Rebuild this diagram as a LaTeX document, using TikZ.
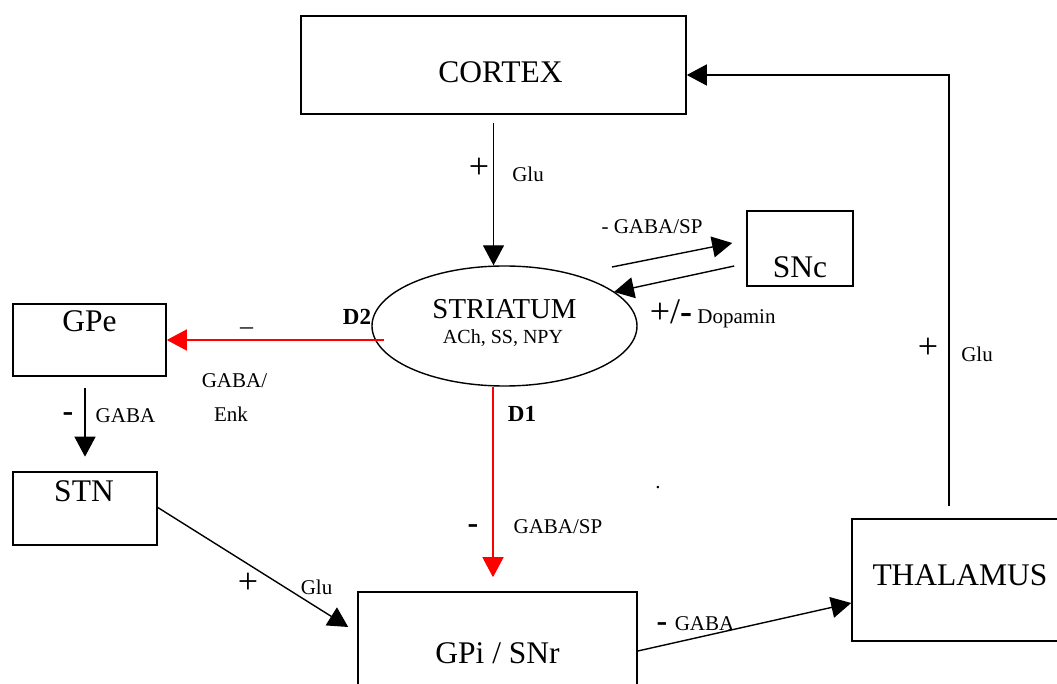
\documentclass[tikz,border=0pt]{standalone}
\usepackage{fontspec}
\setmainfont{Liberation Serif}
\usetikzlibrary{arrows.meta,shapes.geometric}
\begin{document}
\begin{tikzpicture}[x=0.5pt,y=-0.5pt,
  box/.style={draw,line width=0.8pt,rectangle,inner sep=0pt},
  big/.style={font=\fontsize{15.75}{18}\selectfont,inner sep=0pt,anchor=base},
  mid/.style={font=\fontsize{14.4}{17}\selectfont,inner sep=0pt,anchor=base},
  tiny/.style={font=\fontsize{10}{12}\selectfont,inner sep=0pt,anchor=base},
  small/.style={font=\fontsize{10.5}{12}\selectfont,inner sep=0pt,anchor=base},
  boldlab/.style={font=\fontsize{11.5}{13}\selectfont\bfseries,inner sep=0pt,anchor=base},
  sign/.style={font=\fontsize{18}{20}\selectfont,inner sep=0pt,anchor=base},
  minus/.style={font=\fontsize{16}{18}\selectfont\bfseries,inner sep=0pt,anchor=base},
  endash/.style={font=\fontsize{13}{15}\selectfont,inner sep=0pt,anchor=base},
  con/.style={line width=0.7pt,-{Triangle[length=10pt,width=10.5pt]}},
  redcon/.style={con,red},
]
\useasboundingbox (0,0) rectangle (1057,684);
\fill[white] (0,0) rectangle (1057,684);
\clip (0,0) rectangle (1057,684);

% boxes
\node[box,minimum width=192.5pt,minimum height=49pt] (cortex) at (493.5,65) {};
\node[box,minimum width=53pt,minimum height=37.5pt] (snc) at (800,248.5) {};
\node[box,minimum width=76.5pt,minimum height=36pt] (gpe) at (89.5,340) {};
\node[box,minimum width=72pt,minimum height=36.5pt] (stn) at (85,508.5) {};
\node[box,minimum width=105pt,minimum height=61pt] (thal) at (957,580) {};
\node[box,minimum width=139.5pt,minimum height=64pt] (gpi) at (497.5,656) {};
\node[draw,line width=0.7pt,ellipse,inner sep=0pt,minimum width=132.5pt,minimum height=60pt] (striatum) at (504.5,326) {};

% box texts
\node[big] (cortexT) at (500.5,83) {CORTEX};
\node[big] (sncT) at (800,278) {SNc};
\node[mid] (strT) at (504.5,319) {STRIATUM};
\node[tiny] (achT) at (503,344) {ACh, SS, NPY};
\node[big] (gpeT) at (89.5,332) {GPe};
\node[big] (stnT) at (84,502) {STN};
\node[big] (thalT) at (960,586) {THALAMUS};
\node[big] (gpiT) at (497.5,664) {GPi / SNr};

% connectors
\draw[con] ([yshift=-4pt]cortex.south) -- (cortex.south |- striatum.north);
\draw[con] ([shift={(107.5,-59)}]striatum.center) -- ([shift={(-14,-5.5)}]snc.west);
\draw[con] ([shift={(-12,17.5)}]snc.west) -- ([shift={(109.5,-34)}]striatum.center);
\draw[redcon] ([shift={(-120.5,14)}]striatum.center) -- (gpe.east);
\draw[redcon] ([xshift=-5.75pt]striatum.south) -- ([shift={(-4.5,-14)}]gpi.north);
\draw[con] ([shift={(-4.5,11)}]gpe.south) -- ([yshift=7.25pt]stn.north);
\draw[con] ([yshift=0.5pt]stn.east) -- ([shift={(-9,-29)}]gpi.west);
\draw[con] ([yshift=2.5pt]gpi.east) -- ([yshift=-11.5pt]thal.west);
\draw[con] ([shift={(-8,-12)}]thal.north) |- ([yshift=-5pt]cortex.east);

% connector labels
\node[sign] (p1) at (479,179) {+};
\node[small] (g1) at (528,182) {Glu};
\node[small] (gs1) at (652,234) {- GABA/SP};
\node[sign] (pm) at (671,324) {+/\textbf{-}};
\node[small] (dop) at (736.5,324) {Dopamin};
\node[boldlab] (d2) at (357,325) {D2};
\node[boldlab] (d1) at (522,422) {D1};
\node[endash] (m2) at (246.5,335) {–};
\node[small] (gaba2) at (234.5,388) {GABA/};
\node[small] (enk) at (231,422) {Enk};
\node[minus] (m3) at (68,422) {-};
\node[small] (gaba3) at (125.5,423) {GABA};
\node[minus] (m4) at (473,534) {-};
\node[small] (gs2) at (558,534) {GABA/SP};
\node[sign] (p2) at (248,594) {+};
\node[small] (g2) at (316.5,595) {Glu};
\node[minus] (m5) at (662,632) {-};
\node[small] (gaba5) at (704.5,631) {GABA};
\node[sign] (p3) at (928,359) {+};
\node[small] (g3) at (977,362) {Glu};
\node[small] (dot) at (658,489) {.};
\end{tikzpicture}
\end{document}
